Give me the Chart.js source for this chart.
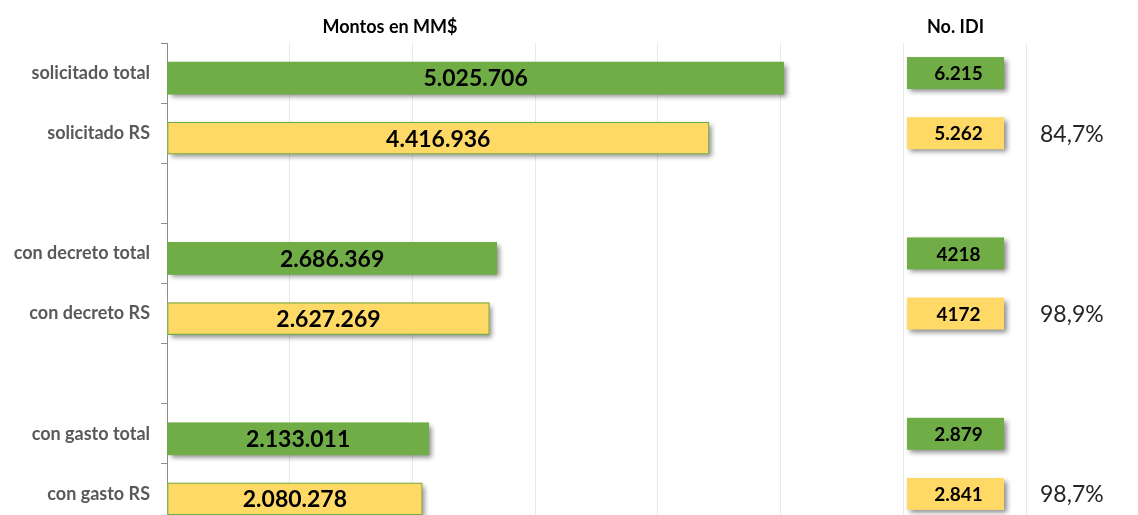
<!DOCTYPE html>
<html>
<head>
<meta charset="utf-8">
<script src="https://cdn.jsdelivr.net/npm/chart.js@4"></script>
<style>
  html, body { margin: 0; padding: 0; background: #ffffff; overflow: hidden; }
  #wrap { position: relative; width: 1138px; height: 560px; }
</style>
</head>
<body>
<div id="wrap"><canvas id="c" width="1138" height="560"></canvas></div>
<script>
// ---------- DATA ----------
const categories = ['solicitado total', 'solicitado RS', '', 'con decreto total', 'con decreto RS', '', 'con gasto total', 'con gasto RS'];
const rowType    = ['total', 'RS', null, 'total', 'RS', null, 'total', 'RS'];
const montos     = [5025706, 4416936, null, 2686369, 2627269, null, 2133011, 2080278];
const idiLabels  = ['6.215', '5.262', null, '4218', '4172', null, '2.879', '2.841'];
const pctLabels  = [null, '84,7%', null, null, '98,9%', null, null, '98,7%'];
const xTicks     = [0, 1000000, 2000000, 3000000, 4000000, 5000000, 6000000, 7000000];
const titles     = ['Montos en MM$', 'No. IDI'];

// ---------- STYLE ----------
const GREEN = '#70AD47', YELLOW = '#FFD966';
const FONT = 'Lato, "Open Sans", sans-serif';
const fill = t => t === 'total' ? GREEN : YELLOW;

function fmt(v) {
  return String(v).replace(/\B(?=(\d{3})+(?!\d))/g, '.');
}

const BAR_NUDGE = 5;          // bars sit slightly below the category centre
const IDI_LEFT = 907, IDI_W = 97, IDI_H = 32;
const PCT_LEFT = 1040;

const nudgePlugin = {
  id: 'nudge',
  afterDatasetsUpdate(chart) {
    chart.getDatasetMeta(0).data.forEach(el => { el.y += BAR_NUDGE; });
  }
};

function shadowRect(ctx, x, y, w, h, color) {
  ctx.save();
  ctx.shadowColor = 'rgba(0,0,0,0.45)';
  ctx.shadowBlur = 5;
  ctx.shadowOffsetX = 3;
  ctx.shadowOffsetY = 3;
  ctx.fillStyle = color;
  ctx.fillRect(x, y, w, h);
  ctx.restore();
}

const shadowPlugin = {
  id: 'barShadow',
  beforeDatasetsDraw(chart) {
    const ctx = chart.ctx;
    chart.getDatasetMeta(0).data.forEach((el, i) => {
      if (montos[i] == null) return;
      const p = el.getProps(['x', 'y', 'base', 'height'], true);
      shadowRect(ctx, p.base, p.y - p.height / 2, p.x - p.base, p.height, fill(rowType[i]));
    });
  }
};

const overlayPlugin = {
  id: 'overlay',
  afterDraw(chart) {
    const ctx = chart.ctx;
    const ys = chart.scales.y;
    ctx.save();
    // titles
    ctx.fillStyle = '#000';
    ctx.textAlign = 'center';
    ctx.textBaseline = 'middle';
    ctx.font = 'bold 18px ' + FONT;
    ctx.fillText(titles[0], 390, 27);
    ctx.fillText(titles[1], IDI_LEFT + IDI_W / 2, 27);

    // value labels inside bars
    ctx.font = 'bold 23px ' + FONT;
    chart.getDatasetMeta(0).data.forEach((el, i) => {
      if (montos[i] == null) return;
      const p = el.getProps(['x', 'y', 'base'], true);
      ctx.fillText(fmt(montos[i]), (p.x + p.base) / 2, p.y + 1);
    });

    // IDI boxes
    categories.forEach((c, i) => {
      if (idiLabels[i] == null) return;
      const cy = ys.getPixelForValue(i);
      shadowRect(ctx, IDI_LEFT, cy - IDI_H / 2, IDI_W, IDI_H, fill(rowType[i]));
      ctx.fillStyle = '#000';
      ctx.font = 'bold 19px ' + FONT;
      ctx.textAlign = 'center';
      ctx.fillText(idiLabels[i], IDI_LEFT + IDI_W / 2 + 3, cy + 1);
    });

    // percentages
    ctx.font = '23px ' + FONT;
    ctx.fillStyle = '#262626';
    ctx.textAlign = 'left';
    categories.forEach((c, i) => {
      if (pctLabels[i] == null) return;
      ctx.fillText(pctLabels[i], PCT_LEFT, ys.getPixelForValue(i) + 1);
    });
    ctx.restore();
  }
};

new Chart(document.getElementById('c'), {
  type: 'bar',
  data: {
    labels: categories,
    datasets: [{
      data: montos,
      backgroundColor: rowType.map(fill),
      borderColor: GREEN,
      borderWidth: rowType.map(t => t === 'RS' ? 1.2 : 0),
      borderSkipped: false,
      barThickness: 32
    }]
  },
  options: {
    indexAxis: 'y',
    responsive: false,
    animation: false,
    events: [],
    layout: { padding: { left: 0, top: 43, right: 112, bottom: 36 } },
    plugins: { legend: { display: false }, tooltip: { enabled: false } },
    scales: {
      x: {
        min: xTicks[0], max: xTicks[xTicks.length - 1],
        afterBuildTicks(s) { s.ticks = xTicks.map(v => ({ value: v })); },
        ticks: { display: false },
        grid: { color: '#E9E9E9', drawTicks: false },
        border: { display: false },
        afterFit(s) { s.height = 0; }
      },
      y: {
        ticks: { font: { family: FONT, weight: 'bold', size: 18 }, color: '#595959', padding: 11, autoSkip: false },
        grid: { drawOnChartArea: false, drawTicks: true, tickLength: 6, color: '#8C8C8C', offset: true },
        border: { display: true, color: '#8C8C8C', width: 1 },
        afterFit(s) { s.width = 167; }
      }
    }
  },
  plugins: [nudgePlugin, shadowPlugin, overlayPlugin]
});
</script>
</body>
</html>
